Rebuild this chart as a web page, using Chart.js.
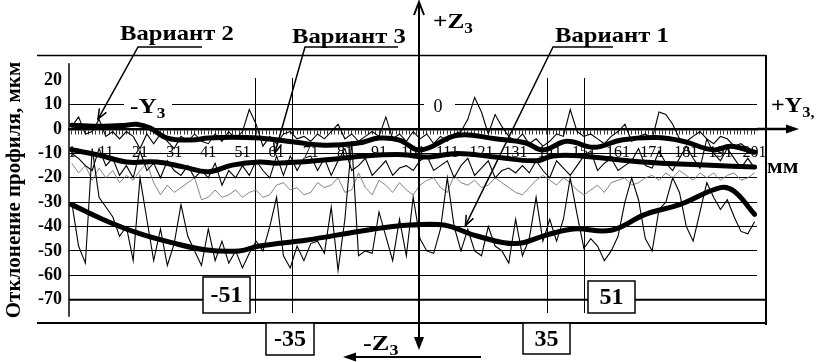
<!DOCTYPE html>
<html>
<head>
<meta charset="utf-8">
<script src="https://cdn.jsdelivr.net/npm/chart.js@4.4.0/dist/chart.umd.min.js"></script>
<style>
html, body { margin: 0; padding: 0; background: #fff; }
#wrap { width: 819px; height: 362px; }
</style>
</head>
<body>
<div id="wrap"><canvas id="profileChart"></canvas></div>
<script>
// measuring points along the profile (every second one of 1..201)
const rawX = Array.from({length: 101}, (_, k) => 1 + 2 * k);
const xTickValues = Array.from({length: 201}, (_, k) => k + 1); // ruler marks
const xLabelValues = [1,11,21,31,41,51,61,71,81,91,101,111,121,131,141,151,161,171,181,191,201];
const yTickLabels = [20,10,0,-10,-20,-30,-40,-50,-60,-70];
const yGridValues = [10,-10,-20,-30,-40,-50,-60];

// measured profiles (thin lines), мкм
const v1Raw = [-30,-48,-55,-8,-28,-32,-36,-44,-40,-54,
  -20,-37,-54,-41,-56,-47,-31,-44,-50,-56,
  -41,-54,-46,-55,-50,-57,-51,-46,-50,-40,
  -28,-52,-57,-48,-54,-47,-46,-51,-32,-58,
  -37,-5,-52,-50,-51,-34,-44,-54,-37,-52,
  -28,-45,-50,-51,-41,-20,-40,-50,-41,-50,
  -52,-40,-48,-50,-55,-37,-52,-45,-28,-46,
  -37,-46,-37,-20,-35,-49,-45,-48,-54,-50,
  -44,-30,-20,-29,-45,-50,-33,-30,-20,-26,
  -40,-46,-34,-22,-28,-33,-29,-36,-42,-43,
  -38];
const v2Raw = [1,5,-2,-1,4,-3,-1,-4,-1,-3,
  -8,-2,-6,-2,-5,-8,-3,-5,-2,-5,
  -6,-2,-5,-1,-4,-1,8,2,-7,-3,
  -6,-2,-1,-4,-3,-5,-2,-4,-1,2,
  -4,-2,-5,-3,-1,-3,5,-4,-2,-5,
  -1,-4,-2,-6,-3,-5,-2,-1,4,13,
  7,-2,6,1,-3,-5,-2,-6,-4,-7,
  -5,-2,-3,8,-1,-3,-2,-4,-6,-3,
  -1,2,-5,-3,-2,-4,7,6,2,-4,
  -5,-3,-1,-4,-6,-3,-4,-7,-6,-8,
  -9];
const v3Raw = [-10,-12,-15,-17,-8,-15,-12,-19,-15,-20,
  -9,-17,-14,-20,-13,-17,-19,-15,-20,-17,
  -20,-14,-23,-17,-20,-15,-19,-13,-17,-20,
  -11,-19,-11,-17,-12,-11,-17,-12,-19,-13,
  -8,-17,-15,-12,-19,-16,-13,-19,-16,-15,
  -17,-13,-11,-17,-15,-13,-20,-15,-12,-19,
  -16,-13,-20,-17,-16,-18,-15,-18,-13,-17,
  -20,-13,-16,-19,-15,-11,-9,-17,-14,-12,
  -17,-15,-13,-8,-15,-16,-9,-14,-17,-12,
  -7,-12,-16,-4,-10,-13,-8,-12,-16,-12,
  -16];
const greyRaw = [-14,-18,-15,-21,-16,-20,-17,-22,-19,-21,
  -17,-14,-22,-27,-23,-26,-24,-22,-20,-29,
  -28,-25,-28,-27,-25,-28,-26,-25,-28,-27,
  -23,-22,-25,-24,-27,-26,-22,-24,-23,-20,
  -26,-25,-18,-24,-27,-21,-23,-26,-22,-25,
  -27,-23,-21,-20,-24,-26,-19,-22,-23,-21,
  -24,-23,-20,-22,-24,-26,-27,-24,-21,-19,
  -21,-23,-20,-22,-25,-27,-25,-23,-26,-22,
  -21,-20,-23,-22,-20,-19,-21,-18,-20,-17,
  -19,-21,-18,-20,-18,-21,-19,-18,-21,-20,
  -18];

// smoothed profiles (thick lines)
const v1SmoothX = [1,10,20,30,40,50,56,70,85,95,100,110,120,131,140,148,159,169,179,191,195,201];
const v1SmoothY = [-31,-37,-42.5,-46.5,-49.5,-50,-48,-45.5,-42,-40,-39.4,-39.4,-44,-47,-43.5,-41,-41.5,-35,-31,-24,-25.5,-35];
const v2SmoothX = [1,10,17,20,24,29,36,41,48,56,66,75,85,91,97,103,114,125,134,139,146,154,162,172,180,189,194,201];
const v2SmoothY = [1.6,1.2,1.6,2,0.4,-3.7,-4.5,-3.7,-3.3,-3.7,-5.3,-6.6,-5.7,-3.7,-4.5,-8.6,-2.5,-4,-5.7,-8.6,-5,-7.5,-4.5,-3.5,-5,-8.6,-7,-9.5];
const v3SmoothX = [1,9,17,26,34,41,48,56,61,75,87,98,105,114,125,137,142,150,168,188,201];
const v3SmoothY = [-8.5,-10.7,-13.5,-13.5,-15.6,-17.5,-14.8,-13.5,-14,-12.7,-11,-10.5,-11.5,-10,-11.5,-13,-11,-11,-13.5,-14.8,-15.6];

// reference positions along the axis (in point numbers)
const refLines = [54.7, 65.5, 140.2, 151.1];
const centerLine = 102.7;

const toPts = (xs, ys) => xs.map((v, i) => ({x: v, y: ys[i]}));
const SERIF = '"Liberation Serif", "Times New Roman", serif';

function seg(ctx, x1, y1, x2, y2) {
  ctx.beginPath(); ctx.moveTo(x1, y1); ctx.lineTo(x2, y2); ctx.stroke();
}
function head(ctx, fx, fy, tx, ty, len, wid, filled) {
  const a = Math.atan2(ty - fy, tx - fx);
  const bx = tx - len * Math.cos(a), by = ty - len * Math.sin(a);
  ctx.beginPath();
  ctx.moveTo(bx + wid * Math.sin(a), by - wid * Math.cos(a));
  ctx.lineTo(tx, ty);
  ctx.lineTo(bx - wid * Math.sin(a), by + wid * Math.cos(a));
  if (filled) { ctx.closePath(); ctx.fill(); } else { ctx.stroke(); }
}
function label(ctx, s, x, y, size, o = {}) {
  ctx.save();
  ctx.font = (o.normal ? '' : 'bold ') + size + 'px ' + SERIF;
  ctx.textAlign = o.align || 'left';
  ctx.textBaseline = o.base || 'alphabetic';
  ctx.translate(x, y);
  ctx.scale(o.sx || 1, 1);
  ctx.fillStyle = '#000';
  ctx.fillText(s, 0, 0);
  const w = ctx.measureText(s).width * (o.sx || 1);
  ctx.restore();
  return w;
}
function withSub(ctx, main, sub, x, base, size, sx) {
  const w = label(ctx, main, x, base, size, {sx: sx});
  return w + label(ctx, sub, x + w, base + size * 0.22, size * 0.68, {sx: sx});
}
function boxed(ctx, s, l, t, w, h, size) {
  ctx.fillStyle = '#fff';
  ctx.fillRect(l, t, w, h);
  ctx.lineWidth = 1.5;
  ctx.strokeRect(l, t, w, h);
  label(ctx, s, l + w / 2, t + h / 2 + 1, size, {align: 'center', base: 'middle'});
}

const decor = {
  id: 'decor',
  beforeDatasetsDraw(chart) {
    const {ctx, scales: {x, y}} = chart;
    ctx.save();
    ctx.strokeStyle = '#000';
    ctx.lineWidth = 1;
    refLines.forEach(v => {
      const px = Math.round(x.getPixelForValue(v)) + 0.5;
      seg(ctx, px, y.getPixelForValue(21), px, y.getPixelForValue(-75.5));
    });
    ctx.restore();
  },
  afterDraw(chart) {
    const {ctx, chartArea: a, scales: {x, y}} = chart;
    const y0 = y.getPixelForValue(0);
    ctx.save();
    ctx.strokeStyle = '#000';
    ctx.fillStyle = '#000';

    // frame
    ctx.lineWidth = 1.5;
    seg(ctx, 37, a.top - 0.5, 766, a.top - 0.5);
    seg(ctx, a.left, y.getPixelForValue(27), a.left, y.getPixelForValue(-77));
    ctx.lineWidth = 2;
    seg(ctx, 37, a.bottom - 1, 767, a.bottom - 1);
    seg(ctx, 766, a.top - 1, 766, a.bottom + 1);
    seg(ctx, a.left, y.getPixelForValue(-70), 766, y.getPixelForValue(-70));

    // +Y3 axis arrow
    ctx.lineWidth = 2.5;
    seg(ctx, a.right, y0, 790, y0);
    head(ctx, 770, y0, 799, y0, 13, 4.5, true);

    // Z3 axis
    const cx = Math.round(x.getPixelForValue(centerLine));
    ctx.lineWidth = 2;
    seg(ctx, cx, 4, cx, 344);
    head(ctx, cx, 30, cx, 2, 13, 5, false);
    head(ctx, cx, 320, cx, 350, 13, 5, true);
    // lower arrow
    seg(ctx, 348, 357, 481, 357);
    head(ctx, 380, 357, 343, 357, 13, 4.5, true);

    // leaders
    ctx.lineWidth = 1.5;
    const leaders = [
      {from: [202, 47], knee: [138, 47], tip: [8.7, 4.1]},
      {from: [398, 47], knee: [305, 47], tip: [60.5, -9.8]},
      {from: [613, 47], knee: [553, 47], tip: [116.3, -39.6]}
    ];
    leaders.forEach(l => {
      const tx = x.getPixelForValue(l.tip[0]), ty = y.getPixelForValue(l.tip[1]);
      ctx.beginPath();
      ctx.moveTo(l.from[0], l.from[1]);
      ctx.lineTo(l.knee[0], l.knee[1]);
      ctx.lineTo(tx, ty);
      ctx.stroke();
      head(ctx, l.knee[0], l.knee[1], tx, ty, 10, 4, false);
    });

    // text
    label(ctx, 'Вариант 2', 120, 40, 22, {sx: 1.12});
    label(ctx, 'Вариант 3', 292, 43, 22, {sx: 1.12});
    label(ctx, 'Вариант 1', 555, 42, 22, {sx: 1.12});

    ctx.fillStyle = '#fff';
    ctx.fillRect(124, 95, 48, 22);
    ctx.fillRect(424, 98, 31, 17);
    withSub(ctx, '-Y', '3', 130, 113, 22, 1.15);
    label(ctx, '0', 438, 107, 18, {normal: true, align: 'center', base: 'middle'});

    withSub(ctx, '+Z', '3', 433, 28, 22, 1.15);
    withSub(ctx, '-Z', '3', 363, 350, 22, 1.2);
    const wy = label(ctx, '+Y', 771, 112, 22, {sx: 1.1});
    label(ctx, '3,', 771 + wy, 117, 15, {sx: 1.1});
    label(ctx, 'мм', 767, 173, 21, {sx: 1.1});

    boxed(ctx, '-51', 203, 277, 47, 36, 24);
    boxed(ctx, '51', 588, 281, 47, 32, 24);
    boxed(ctx, '-35', 266, 323, 48, 32, 24);
    boxed(ctx, '35', 523, 323, 47, 31, 24);

    ctx.restore();
  }
};

const thin = (data, color, width) => ({
  data: data, borderColor: color, borderWidth: width, pointRadius: 0, tension: 0, order: 2
});
const thick = (data) => ({
  data: data, borderColor: '#000', borderWidth: 5, pointRadius: 0, tension: 0.4,
  borderCapStyle: 'round', borderJoinStyle: 'round', order: 1
});

new Chart(document.getElementById('profileChart'), {
  type: 'line',
  data: {
    datasets: [
      Object.assign(thick(toPts(v1SmoothX, v1SmoothY)), {label: 'Вариант 1'}),
      Object.assign(thick(toPts(v2SmoothX, v2SmoothY)), {label: 'Вариант 2'}),
      Object.assign(thick(toPts(v3SmoothX, v3SmoothY)), {label: 'Вариант 3'}),
      Object.assign(thin(toPts(rawX, v1Raw), '#000', 1.1), {label: 'профиль 1'}),
      Object.assign(thin(toPts(rawX, v2Raw), '#000', 1.1), {label: 'профиль 2'}),
      Object.assign(thin(toPts(rawX, v3Raw), '#000', 1.1), {label: 'профиль 3'}),
      Object.assign(thin(toPts(rawX, greyRaw), '#777', 0.9), {label: 'профиль 4'})
    ]
  },
  options: {
    responsive: true,
    maintainAspectRatio: false,
    animation: false,
    layout: {padding: {left: 0, top: 56, right: 62, bottom: 38}},
    plugins: {legend: {display: false}, tooltip: {enabled: false}},
    scales: {
      x: {
        type: 'linear',
        position: {y: 0},
        min: 0.2,
        max: 201.7,
        afterBuildTicks: scale => { scale.ticks = xTickValues.map(v => ({value: v})); },
        border: {display: true, color: '#000', width: 2.5},
        grid: {drawOnChartArea: false, drawTicks: true, tickLength: 4, color: '#000', lineWidth: 0.8},
        ticks: {
          autoSkip: false, maxRotation: 0, padding: 10, color: '#000',
          font: {family: SERIF, size: 16},
          callback: v => xLabelValues.includes(v) ? String(v) : ''
        }
      },
      y: {
        min: -80,
        max: 30,
        afterFit: scale => { scale.width = 69; },
        border: {display: false},
        grid: {
          color: c => yGridValues.includes(c.tick.value) ? '#000' : 'rgba(0,0,0,0)',
          lineWidth: 1,
          drawTicks: false
        },
        ticks: {
          stepSize: 10, autoSkip: false, padding: 7, color: '#000',
          font: {family: SERIF, size: 18, weight: 'bold'},
          callback: v => yTickLabels.includes(v) ? String(v) : ''
        },
        title: {
          display: true,
          text: 'Отклонение профиля, мкм',
          color: '#000',
          font: {family: SERIF, size: 21, weight: 'bold'},
          padding: {top: 2, bottom: 0}
        }
      }
    }
  },
  plugins: [decor]
});
</script>
</body>
</html>
